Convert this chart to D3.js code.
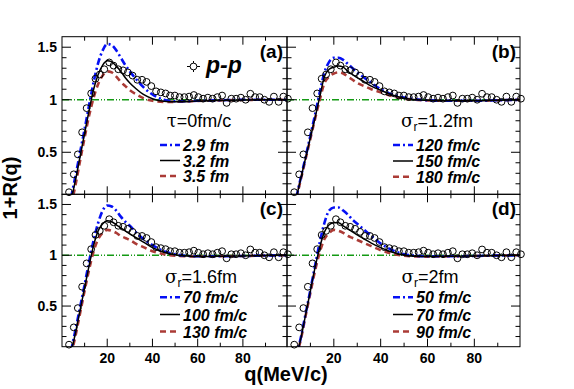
<!DOCTYPE html>
<html><head><meta charset="utf-8">
<script src="https://cdn.jsdelivr.net/npm/d3@7/dist/d3.min.js"></script>
<style>
html,body{margin:0;padding:0;background:#fff;}
text{font-family:"Liberation Sans",Arial,Helvetica,sans-serif;}
</style></head>
<body><svg id="c" width="574" height="389"></svg>
<script>
// ---------------- data ----------------
const dataQ = [3.1,5.2,7.0,8.9,10.9,12.9,14.8,16.7,18.7,20.9,22.8,24.9,27.0,29.1,31.2,33.3,35.4,37.4,39.5,41.6,43.7,45.8,47.8,49.9,52.0,54.1,56.2,58.3,60.3,62.4,64.5,66.6,68.7,70.8,72.8,74.9,77.0,79.1,81.2,83.3,85.4,87.4,89.5,91.6,93.7,95.8,97.9,99.9];
const dataV = [0.12,0.29,0.48,0.69,0.92,1.06,1.20,1.24,1.29,1.355,1.325,1.29,1.28,1.26,1.23,1.19,1.19,1.17,1.13,1.08,1.07,1.06,1.04,1.04,1.025,1.025,1.03,1.045,1.025,1.01,1.02,1.01,1.025,1.04,0.97,1.01,1.01,1.02,1.0,1.057,1.025,1.025,1.0,0.98,1.03,0.98,1.03,1.01];

const curveQ = [4,6,8,10,12,14,16,18,20,22,24,26,28,30,33,36,40,45,50,55,60,70,80,90,100];

// panel (a): tau = 0 fm/c, source radius
const a_29 = [0.07,0.28,0.50,0.72,0.95,1.17,1.35,1.47,1.53,1.52,1.47,1.40,1.33,1.27,1.19,1.12,1.05,1.00,0.985,0.985,0.99,0.995,1.0,1.0,1.0];
const a_32 = [0.04,0.24,0.46,0.68,0.90,1.10,1.24,1.33,1.37,1.36,1.32,1.27,1.21,1.16,1.10,1.05,1.01,0.985,0.98,0.982,0.987,0.993,0.997,1.0,1.0];
const a_35 = [0.00,0.19,0.42,0.64,0.85,1.02,1.15,1.23,1.27,1.26,1.22,1.17,1.13,1.09,1.05,1.015,0.99,0.98,0.98,0.983,0.988,0.994,0.998,1.0,1.0];
// panel (b): sigma_r = 1.2 fm
const b_120 = [0.07,0.27,0.46,0.66,0.86,1.07,1.26,1.36,1.40,1.40,1.38,1.34,1.30,1.26,1.21,1.16,1.10,1.05,1.02,1.005,0.995,0.99,0.99,0.995,1.0];
const b_150 = [0.07,0.26,0.45,0.64,0.83,1.03,1.22,1.29,1.31,1.32,1.31,1.27,1.24,1.21,1.17,1.13,1.09,1.045,1.015,1.0,0.995,0.99,0.99,0.995,1.0];
const b_180 = [0.06,0.25,0.44,0.63,0.82,1.00,1.16,1.22,1.25,1.26,1.25,1.22,1.19,1.16,1.13,1.10,1.07,1.035,1.01,1.0,0.993,0.99,0.99,0.995,1.0];
// panel (c): sigma_r = 1.6 fm
const c_70 = [0.06,0.27,0.49,0.71,0.94,1.15,1.32,1.44,1.49,1.48,1.44,1.38,1.33,1.29,1.22,1.16,1.10,1.04,1.01,0.995,0.99,0.99,0.993,0.997,1.0];
const c_100 = [0.04,0.24,0.46,0.68,0.90,1.10,1.24,1.31,1.34,1.33,1.30,1.27,1.24,1.21,1.17,1.13,1.075,1.03,1.005,0.993,0.988,0.99,0.993,0.997,1.0];
const c_130 = [0.02,0.21,0.43,0.65,0.86,1.04,1.16,1.22,1.25,1.24,1.22,1.19,1.17,1.15,1.11,1.08,1.04,1.01,0.995,0.99,0.988,0.99,0.993,0.997,1.0];
// panel (d): sigma_r = 2 fm
const d_50 = [0.0,0.20,0.43,0.66,0.90,1.13,1.32,1.44,1.47,1.47,1.44,1.40,1.35,1.31,1.25,1.19,1.115,1.05,1.01,0.995,0.99,0.99,0.993,0.997,1.0];
const d_70 = [0.0,0.19,0.42,0.65,0.88,1.08,1.23,1.30,1.32,1.32,1.29,1.26,1.23,1.20,1.16,1.12,1.075,1.03,1.0,0.99,0.988,0.99,0.993,0.997,1.0];
const d_90 = [0.0,0.18,0.41,0.63,0.85,1.03,1.16,1.22,1.25,1.24,1.22,1.19,1.17,1.15,1.12,1.09,1.05,1.015,0.995,0.988,0.987,0.99,0.993,0.997,1.0];

const panelTags = ["(a)","(b)","(c)","(d)"];
const headers = ["τ=0fm/c","σ|1.2fm","σ|1.6fm","σ|2fm"];
const legendLabels = [["2.9 fm","3.2 fm","3.5 fm"],["120 fm/c","150 fm/c","180 fm/c"],["70 fm/c","100 fm/c","130 fm/c"],["50 fm/c","70 fm/c","90 fm/c"]];
const series = [[a_29,a_32,a_35],[b_120,b_150,b_180],[c_70,c_100,c_130],[d_50,d_70,d_90]];
const yTickLabels = [0.5,1,1.5];
const xTickLabels = [20,40,60,80];
const xTitle = "q(MeV/c)";
const yTitle = "1+R(q)";
const expLabel = "p-p";

// ---------------- layout ----------------
const svg = d3.select("#c");
const X0=62, X1=287, X2=520;
const Y0=36.7, Y1=194.3, Y2=346.7;
const panels = [
  {x0:X0,x1:X1,y0:Y0,y1:Y1,left:true,bottom:false},
  {x0:X1,x1:X2,y0:Y0,y1:Y1,left:false,bottom:false},
  {x0:X0,x1:X1,y0:Y1,y1:Y2,left:true,bottom:true},
  {x0:X1,x1:X2,y0:Y1,y1:Y2,left:false,bottom:true}
];
const styles = [
  {color:"#0510f5",dash:"7,3,2,3",w:2.6},
  {color:"#000000",dash:null,w:1.5},
  {color:"#ab3b36",dash:"6,4",w:2.6}
];
const legX = [160,393,160,393];
const legY = [[145,160.5,176],[145,161,176.7],[297.3,314.5,331.5],[297.3,314.5,331.5]];
const hdr = [{x:199,y:127},{x:437,y:127},{x:201,y:283},{x:430,y:283}];

panels.forEach((p,i)=>{
  const x = d3.scaleLinear().domain([0,99.5]).range([p.x0,p.x1]);
  const y = d3.scaleLinear().domain([0.1,1.6]).range([p.y1,p.y0]);
  const g = svg.append("g");
  const cid = "clip"+i;
  svg.append("clipPath").attr("id",cid).append("rect")
    .attr("x",p.x0).attr("y",p.y0).attr("width",p.x1-p.x0).attr("height",p.y1-p.y0);

  // reference line at 1
  g.append("line").attr("x1",x(0)).attr("x2",x(99.5)).attr("y1",y(1)).attr("y2",y(1))
    .attr("stroke","#149a14").attr("stroke-width",1.3).attr("stroke-dasharray","7,2,1,2,1,2");

  // curves
  const line = d3.line().x(d=>x(d[0])).y(d=>y(d[1])).curve(d3.curveMonotoneX);
  const order = [2,0,1];
  order.forEach(k=>{
    const s = styles[k];
    g.append("path").attr("clip-path",`url(#${cid})`)
      .attr("d",line(curveQ.map((q,j)=>[q,series[i][k][j]])))
      .attr("fill","none").attr("stroke",s.color).attr("stroke-width",s.w)
      .attr("stroke-dasharray",s.dash);
  });

  // data points
  g.selectAll("circle.d").data(dataQ.map((q,j)=>[q,dataV[j]])).join("circle")
    .attr("cx",d=>x(d[0])).attr("cy",d=>y(d[1])).attr("r",3.4)
    .attr("fill","none").attr("stroke","#000").attr("stroke-width",1);

  // frame
  g.append("rect").attr("x",p.x0).attr("y",p.y0).attr("width",p.x1-p.x0).attr("height",p.y1-p.y0)
    .attr("fill","none").attr("stroke","#000").attr("stroke-width",1);

  // ticks
  const xt = d3.range(10,99,10);
  xt.forEach(v=>{
    const L = v%20===0?8:4;
    g.append("line").attr("x1",x(v)).attr("x2",x(v)).attr("y1",p.y1).attr("y2",p.y1-L).attr("stroke","#000");
    g.append("line").attr("x1",x(v)).attr("x2",x(v)).attr("y1",p.y0).attr("y2",p.y0+L).attr("stroke","#000");
  });
  const yt = d3.range(2,16).map(k=>k/10);
  yt.forEach(v=>{
    const maj = Math.abs(v*2-Math.round(v*2))<1e-6;
    const L = maj?9:4.5;
    g.append("line").attr("x1",p.x0).attr("x2",p.x0+L).attr("y1",y(v)).attr("y2",y(v)).attr("stroke","#000");
    g.append("line").attr("x1",p.x1).attr("x2",p.x1-L).attr("y1",y(v)).attr("y2",y(v)).attr("stroke","#000");
  });
  if(p.left){
    yTickLabels.forEach(v=>{
      g.append("text").attr("x",p.x0-5).attr("y",y(v)+5).attr("text-anchor","end")
        .attr("font-size",14).attr("font-weight","bold").text(v);
    });
  }
  if(p.bottom){
    xTickLabels.forEach(v=>{
      g.append("text").attr("x",x(v)).attr("y",p.y1+16).attr("text-anchor","middle")
        .attr("font-size",14).attr("font-weight","bold").text(v);
    });
  }
  // tag
  g.append("text").attr("x",p.x1-4).attr("y",p.y0+21).attr("text-anchor","end")
    .attr("font-size",19).attr("font-weight","bold").text(panelTags[i]);

  // header
  const h = headers[i];
  const ht = g.append("text").attr("x",hdr[i].x).attr("y",hdr[i].y).attr("text-anchor","middle").attr("font-size",18);
  if(h.includes("|")){
    const [g1,rest] = h.split("|");
    ht.append("tspan").attr("font-family","'DejaVu Serif',serif").text(g1);
    ht.append("tspan").attr("font-size",12).attr("dy",4).text("r");
    ht.append("tspan").attr("dy",-4).text("="+rest);
  } else {
    ht.append("tspan").attr("font-family","'DejaVu Serif',serif").text(h[0]);
    ht.append("tspan").text(h.slice(1));
  }
  // legend
  [0,1,2].forEach(k=>{
    const s=styles[k];
    const ly = legY[i][k];
    g.append("line").attr("x1",legX[i]).attr("x2",legX[i]+20).attr("y1",ly).attr("y2",ly)
      .attr("stroke",s.color).attr("stroke-width",s.w).attr("stroke-dasharray",s.dash);
    g.append("text").attr("x",legX[i]+23).attr("y",ly+6).attr("font-size",16)
      .attr("font-weight","bold").attr("font-style","italic").text(legendLabels[i][k]);
  });
});

// experimental legend in panel (a)
svg.append("line").attr("x1",187).attr("x2",200).attr("y1",66.5).attr("y2",66.5).attr("stroke","#000");
svg.append("line").attr("x1",193.5).attr("x2",193.5).attr("y1",61).attr("y2",72).attr("stroke","#000");
svg.append("circle").attr("cx",193.5).attr("cy",66.5).attr("r",3.4).attr("fill","#fff").attr("stroke","#000");
svg.append("text").attr("x",206).attr("y",73).attr("font-size",23).attr("font-weight","bold")
  .attr("font-style","italic").text(expLabel);

// axis titles
svg.append("text").attr("x",286).attr("y",381).attr("text-anchor","middle")
  .attr("font-size",20).attr("font-weight","bold").text(xTitle);
svg.append("text").attr("transform","translate(17,188) rotate(-90)").attr("text-anchor","middle")
  .attr("font-size",20).attr("font-weight","bold").text(yTitle);
</script></body></html>
